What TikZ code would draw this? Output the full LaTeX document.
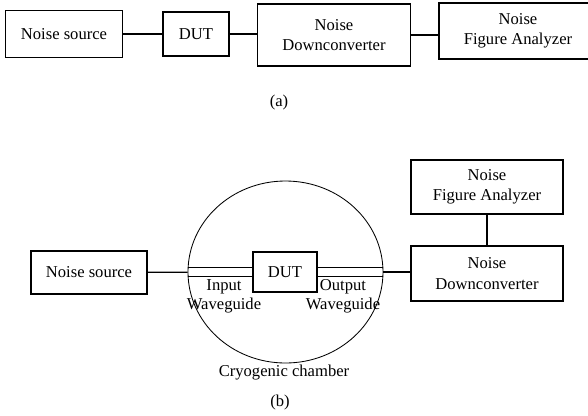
\documentclass[tikz,border=0pt]{standalone}
\usepackage{fontspec}
\setmainfont{Liberation Serif}
\usetikzlibrary{positioning,shapes.geometric}

\tikzset{
	blk/.style={draw, line width=0.9pt, align=center, inner sep=0pt, font=\fontsize{11.8}{14.5}\selectfont},
	sz/.style 2 args={minimum width=#1*0.025cm, minimum height=#2*0.025cm},
	lbl/.style={align=center, inner sep=0pt, font=\fontsize{11.8}{13.5}\selectfont},
	wire/.style={line width=0.9pt},
	guide/.style={line width=0.6pt},
}

\begin{document}
\begin{tikzpicture}[x=0.025cm, y=-0.025cm]
	\useasboundingbox (0,0) rectangle (588,416);
	\clip (0,0) rectangle (588,416);
	
	% (a)
	\node [blk, sz={117}{47}] (src) at (64,34) {Noise source};
	\node [blk, sz={66}{44}] (dut) at (196,34) {DUT};
	\node [blk, sz={153}{62}] (ndc) at (334,35) {Noise\\Downconverter};
	\node [blk, sz={158}{56}] (nfa) at (518,31) {Noise\\Figure Analyzer};
	
	\draw [wire] (src) -- (dut);
	\draw [wire] (dut) -- (dut -| ndc.west);
	\draw [wire] (ndc) -- (ndc -| nfa.west);
	
	\node [lbl] (capa) at (279,103) {(a)};
	
	% (b)
	\node [draw, line width=0.6pt, ellipse, inner sep=0pt, sz={195}{182}] (chamber) at (285.5,272) {};
	\node [blk, sz={116}{43}] (src2) at (89,272.5) {Noise source};
	\node [blk, fill=white, sz={64}{40}] (dut2) at (285,272) {DUT};
	\node [blk, sz={152}{55}] (ndc2) at (487,273.5) {Noise\\Downconverter};
	\node [blk, sz={152}{54}] (nfa2) at (487,187) {Noise\\Figure Analyzer};
	
	\draw [wire] (src2) -- (chamber);
	\draw [wire] (chamber) -- (chamber -| ndc2.west);
	\draw [wire] (nfa2) -- (ndc2);
	
	% waveguides
	\draw [guide] ([yshift=0.11cm]chamber.west) -- ([yshift=0.11cm]dut2.west);
	\draw [guide] ([yshift=-0.12cm]chamber.west) -- ([yshift=-0.12cm]dut2.west);
	\draw [guide] ([yshift=0.11cm]dut2.east) -- ([yshift=0.11cm]chamber.east);
	\draw [guide] ([yshift=-0.12cm]dut2.east) -- ([yshift=-0.12cm]chamber.east);
	
	\node [lbl] (inlbl) at (224,296) {Input\\Waveguide};
	\node [lbl] (outlbl) at (343,296) {Output\\Waveguide};
	\node [lbl] (chlbl) at (284,373) {Cryogenic chamber};
	\node [lbl] (capb) at (280,403) {(b)};
\end{tikzpicture}
\end{document}
